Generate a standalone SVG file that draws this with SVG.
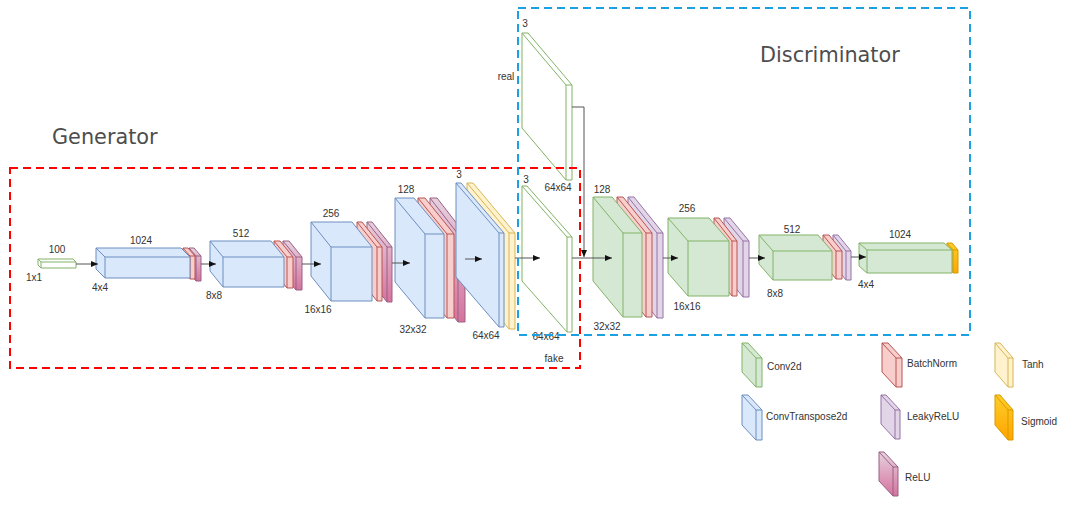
<svg xmlns="http://www.w3.org/2000/svg" width="1081" height="509" viewBox="0 0 1081 509">
<style>
.lbl{font-family:"Liberation Sans",Arial,sans-serif;font-size:10px;fill:#333;text-anchor:middle}
.leg{font-family:"Liberation Sans",Arial,sans-serif;font-size:10px;fill:#333}
.title{font-family:"DejaVu Sans","Open Sans",sans-serif;font-size:20.8px;fill:#4d4d4d}
.ln{fill:none;stroke-width:1}
.blue{fill:#dae8fc;stroke:#6c8ebf}
.green{fill:#d5e8d4;stroke:#82b366}
.white{fill:#ffffff;stroke:#82b366}
.bn{fill:#f8cecc;stroke:#b85450}
.lrelu{fill:#e1d5e7;stroke:#9673a6}
.relu{fill:url(#gRelu);stroke:#996185}
.tanh{fill:#fff2cc;stroke:#d6b656}
.sig{fill:url(#gSig);stroke:#d79b00}
.blue-l{fill:none;stroke:#6c8ebf}
.green-l{fill:none;stroke:#82b366}
.bn-l{fill:none;stroke:#b85450}
.lrelu-l{fill:none;stroke:#9673a6}
.relu-l{fill:none;stroke:#996185}
.tanh-l{fill:none;stroke:#d6b656}
.sig-l{fill:none;stroke:#d79b00}
.conn{fill:none;stroke:#555;stroke-width:1;marker-end:url(#arr)}
.dash-red{fill:none;stroke:#ff0000;stroke-width:2;stroke-dasharray:8 5}
.dash-blue{fill:none;stroke:#1ba1e2;stroke-width:2;stroke-dasharray:8 5}
</style>
<defs>
<linearGradient id="gRelu" x1="0" y1="0" x2="0" y2="1">
<stop offset="0" stop-color="#e6d0de"/><stop offset="1" stop-color="#d5739d"/>
</linearGradient>
<linearGradient id="gSig" x1="0" y1="0" x2="0" y2="1">
<stop offset="0" stop-color="#ffcd28"/><stop offset="1" stop-color="#ffa500"/>
</linearGradient>
<marker id="arr" markerWidth="7" markerHeight="6" refX="7" refY="3" orient="auto" markerUnits="userSpaceOnUse">
<path d="M0,0 L7,3 L0,6 Z" fill="#111"/>
</marker>
</defs>
<rect width="1081" height="509" fill="#ffffff"/>

<text class="title" x="52" y="144">Generator</text>
<text class="title" x="760" y="62">Discriminator</text>

<g id="g-input">
<path class="white" d="M38 259 H73 L76 262 V268 H41 L38 265 Z"/>
<path class="green-l" d="M38 259 L41 262 H76 M41 262 V268"/>
<text class="lbl" x="57" y="253">100</text>
<text class="lbl" x="34" y="281">1x1</text>
</g>

<g id="g-1024">
<path class="relu" d="M189 248 H194 L201 256 V281 H196 L189 273 Z"/>
<path class="relu-l" d="M189 248 L196 256 H201 M196 256 V281"/>
<path class="bn" d="M183 248 H188 L195 256 V279 H190 L183 271 Z"/>
<path class="bn-l" d="M183 248 L190 256 H195 M190 256 V279"/>
<path class="blue" d="M96 248 H181 L190 257 V278 H105 L96 269 Z"/>
<path class="blue-l" d="M96 248 L105 257 H190 M105 257 V278"/>
<text class="lbl" x="141" y="244">1024</text>
<text class="lbl" x="100" y="291">4x4</text>
</g>

<g id="g-512">
<path class="relu" d="M283 241 H289 L302 257 V290 H296 L283 274 Z"/>
<path class="relu-l" d="M283 241 L296 257 H302 M296 257 V290"/>
<path class="bn" d="M274 241 H280 L293 257 V288 H287 L274 272 Z"/>
<path class="bn-l" d="M274 241 L287 257 H293 M287 257 V288"/>
<path class="blue" d="M210 241 H271 L284 257 V287 H223 L210 271 Z"/>
<path class="blue-l" d="M210 241 L223 257 H284 M223 257 V287"/>
<text class="lbl" x="241" y="237">512</text>
<text class="lbl" x="214" y="299">8x8</text>
</g>

<g id="g-256">
<path class="relu" d="M367 222 H372 L392 247 V302 H387 L367 277 Z"/>
<path class="relu-l" d="M367 222 L387 247 H392 M387 247 V302"/>
<path class="bn" d="M357 222 H362 L382 247 V301 H377 L357 276 Z"/>
<path class="bn-l" d="M357 222 L377 247 H382 M377 247 V301"/>
<path class="blue" d="M311 222 H352 L372 247 V301 H331 L311 276 Z"/>
<path class="blue-l" d="M311 222 L331 247 H372 M331 247 V301"/>
<text class="lbl" x="331" y="217">256</text>
<text class="lbl" x="318" y="313">16x16</text>
</g>

<g id="g-128">
<path class="relu" d="M430 198 H437 L465 234 V322 H458 L430 286 Z"/>
<path class="relu-l" d="M430 198 L458 234 H465 M458 234 V322"/>
<path class="bn" d="M418 198 H425 L454 234 V318 H447 L418 282 Z"/>
<path class="bn-l" d="M418 198 L447 234 H454 M447 234 V318"/>
<path class="blue" d="M395 198 H414 L444 234 V318 H425 L395 282 Z"/>
<path class="blue-l" d="M395 198 L425 234 H444 M425 234 V318"/>
<text class="lbl" x="406" y="193">128</text>
<text class="lbl" x="413" y="333">32x32</text>
</g>

<g id="g-out">
<path class="tanh" d="M467 183 H473 L515 233 V329 H509 L467 279 Z"/>
<path class="tanh-l" d="M467 183 L509 233 H515 M509 233 V329"/>
<path class="blue" d="M456 183 H461 L504 233 V327 H499 L456 277 Z"/>
<path class="blue-l" d="M456 183 L499 233 H504 M499 233 V327"/>
<text class="lbl" x="459" y="178">3</text>
<text class="lbl" x="486" y="339">64x64</text>
</g>

<g id="fake">
<path class="white" d="M522 186 H527 L572 237 V332 H567 L522 281 Z"/>
<path class="green-l" d="M522 186 L567 237 H572 M567 237 V332"/>
<text class="lbl" x="526" y="183">3</text>
<text class="lbl" x="546" y="340">64x64</text>
<text class="lbl" x="554" y="362">fake</text>
</g>

<g id="real">
<path class="white" d="M522 33 H528 L572 85 V180 H566 L522 128 Z"/>
<path class="green-l" d="M522 33 L566 85 H572 M566 85 V180"/>
<text class="lbl" x="525" y="27">3</text>
<text class="lbl" x="506" y="80">real</text>
<text class="lbl" x="558" y="191">64x64</text>
</g>

<g id="d-128">
<path class="lrelu" d="M628 197 H634 L663 233 V318 H657 L628 282 Z"/>
<path class="lrelu-l" d="M628 197 L657 233 H663 M657 233 V318"/>
<path class="bn" d="M617 197 H623 L652 233 V317 H646 L617 281 Z"/>
<path class="bn-l" d="M617 197 L646 233 H652 M646 233 V317"/>
<path class="green" d="M593 197 H612 L642 233 V317 H623 L593 281 Z"/>
<path class="green-l" d="M593 197 L623 233 H642 M623 233 V317"/>
<text class="lbl" x="602" y="193">128</text>
<text class="lbl" x="607" y="330">32x32</text>
</g>

<g id="d-256">
<path class="lrelu" d="M724 218 H730 L749 241 V297 H743 L724 274 Z"/>
<path class="lrelu-l" d="M724 218 L743 241 H749 M743 241 V297"/>
<path class="bn" d="M714 218 H719 L737 241 V296 H732 L714 273 Z"/>
<path class="bn-l" d="M714 218 L732 241 H737 M732 241 V296"/>
<path class="green" d="M668 218 H709 L729 241 V296 H688 L668 273 Z"/>
<path class="green-l" d="M668 218 L688 241 H729 M688 241 V296"/>
<text class="lbl" x="687" y="212">256</text>
<text class="lbl" x="687" y="310">16x16</text>
</g>

<g id="d-512">
<path class="lrelu" d="M833 235 H838 L851 251 V280 H846 L833 264 Z"/>
<path class="lrelu-l" d="M833 235 L846 251 H851 M846 251 V280"/>
<path class="bn" d="M823 235 H829 L842 251 V279 H836 L823 263 Z"/>
<path class="bn-l" d="M823 235 L836 251 H842 M836 251 V279"/>
<path class="green" d="M759 235 H818 L832 251 V280 H773 L759 264 Z"/>
<path class="green-l" d="M759 235 L773 251 H832 M773 251 V280"/>
<text class="lbl" x="792" y="233">512</text>
<text class="lbl" x="775" y="297">8x8</text>
</g>

<g id="d-1024">
<path class="sig" d="M947 243 H952 L958 250 V273 H953 L947 266 Z"/>
<path class="sig-l" d="M947 243 L953 250 H958 M953 250 V273"/>
<path class="green" d="M859 243 H944 L952 250 V273 H867 L859 266 Z"/>
<path class="green-l" d="M859 243 L867 250 H952 M867 250 V273"/>
<text class="lbl" x="900" y="238">1024</text>
<text class="lbl" x="866" y="288">4x4</text>
</g>

<g id="connectors">
<path class="conn" d="M76 264 H98"/>
<path class="conn" d="M201 264 H216"/>
<path class="conn" d="M302 264 H321"/>
<path class="conn" d="M392 263 H410"/>
<path class="conn" d="M465 259 H482"/>
<path class="conn" d="M515 258 H540"/>
<path class="conn" d="M572 107 H584 V257"/>
<path class="conn" d="M572 258 H612"/>
<path class="conn" d="M663 258 H678"/>
<path class="conn" d="M749 258 H765"/>
<path class="conn" d="M851 257 H866"/>
</g>

<g id="legend">
<g id="leg-conv2d">
<path class="green" d="M742 343 H748 L762 358 V387 H756 L742 372 Z"/>
<path class="green-l" d="M742 343 L756 358 H762 M756 358 V387"/>
<text class="leg" x="767" y="370">Conv2d</text>
</g>
<g id="leg-convt">
<path class="blue" d="M742 395 H748 L762 410 V440 H756 L742 425 Z"/>
<path class="blue-l" d="M742 395 L756 410 H762 M756 410 V440"/>
<text class="leg" x="766" y="420">ConvTranspose2d</text>
</g>
<g id="leg-bn">
<path class="bn" d="M882 343 H888 L902 358 V387 H896 L882 372 Z"/>
<path class="bn-l" d="M882 343 L896 358 H902 M896 358 V387"/>
<text class="leg" x="907" y="367">BatchNorm</text>
</g>
<g id="leg-lrelu">
<path class="lrelu" d="M881 395 H886 L900 410 V439 H895 L881 424 Z"/>
<path class="lrelu-l" d="M881 395 L895 410 H900 M895 410 V439"/>
<text class="leg" x="907" y="420">LeakyReLU</text>
</g>
<g id="leg-relu">
<path class="relu" d="M879 452 H884 L898 467 V496 H893 L879 481 Z"/>
<path class="relu-l" d="M879 452 L893 467 H898 M893 467 V496"/>
<text class="leg" x="905" y="481">ReLU</text>
</g>
<g id="leg-tanh">
<path class="tanh" d="M995 343 H1000 L1013 358 V387 H1008 L995 372 Z"/>
<path class="tanh-l" d="M995 343 L1008 358 H1013 M1008 358 V387"/>
<text class="leg" x="1022" y="368">Tanh</text>
</g>
<g id="leg-sig">
<path class="sig" d="M995 395 H1000 L1013 410 V440 H1008 L995 425 Z"/>
<path class="sig-l" d="M995 395 L1008 410 H1013 M1008 410 V440"/>
<text class="leg" x="1021" y="425">Sigmoid</text>
</g>
</g>

<g id="generator-box"><rect class="dash-red" x="10" y="168" width="570" height="200"/></g>
<g id="discriminator-box"><rect class="dash-blue" x="518" y="8" width="452" height="327"/></g>
</svg>
